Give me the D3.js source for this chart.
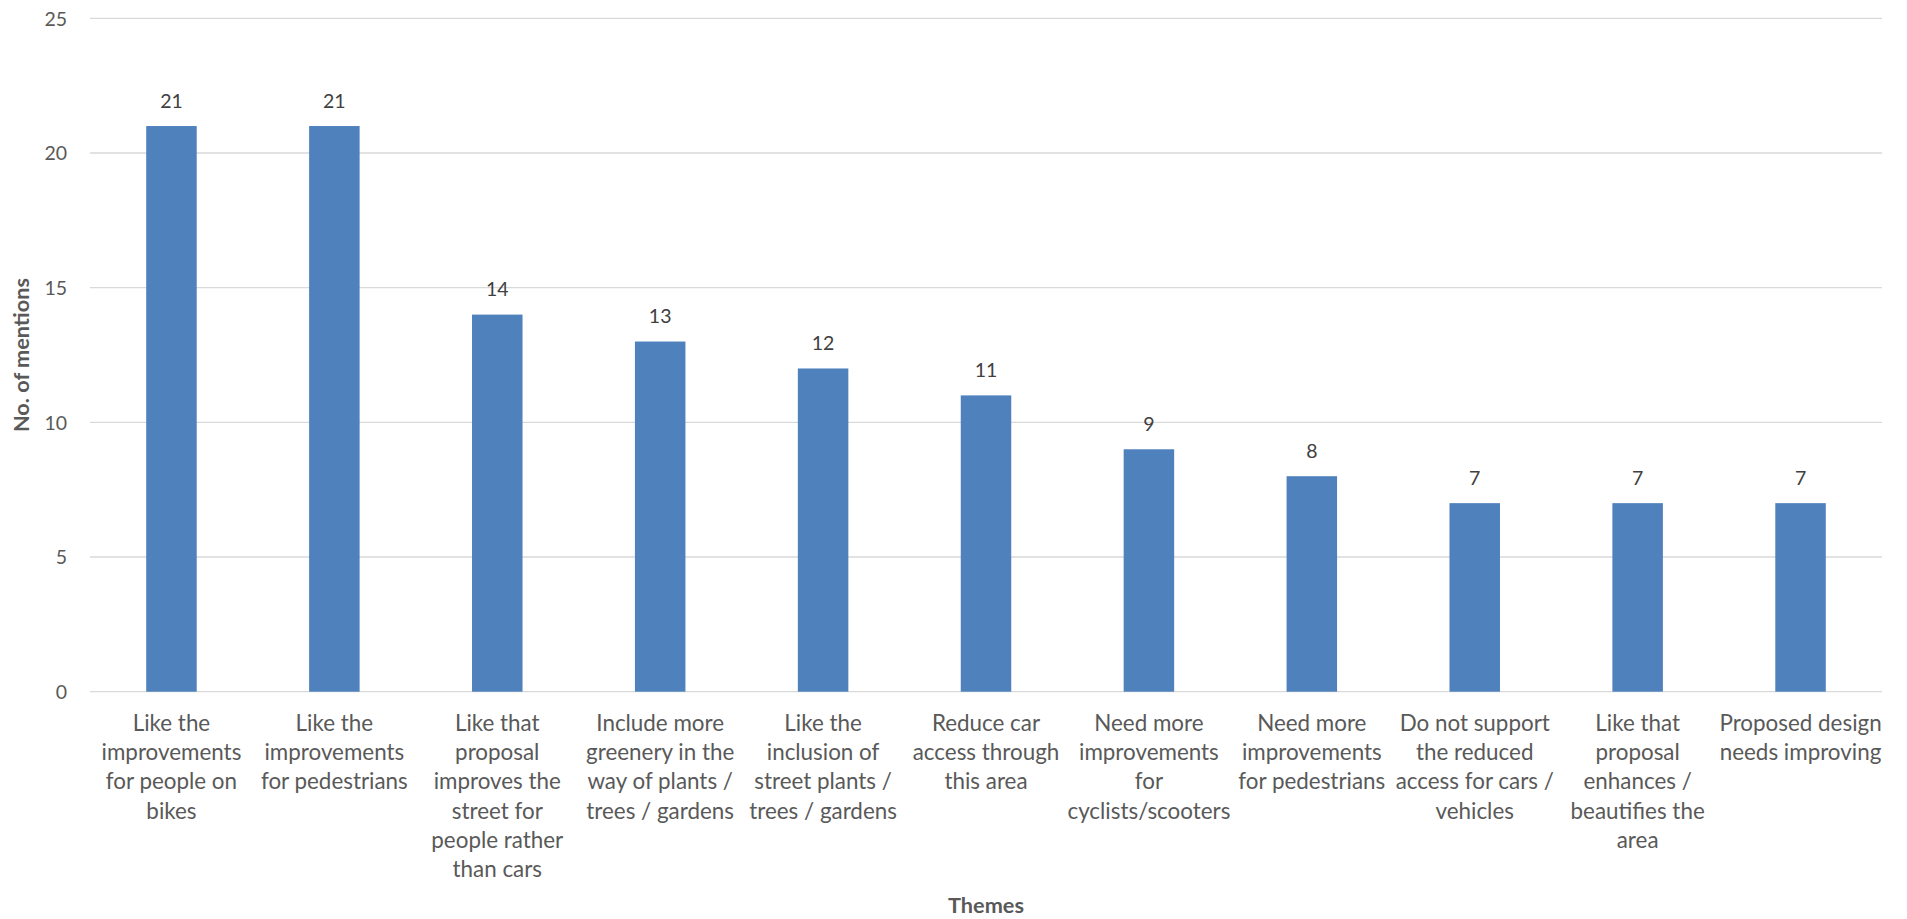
<!DOCTYPE html>
<html>
<head>
<meta charset="utf-8">
<script src="https://cdn.jsdelivr.net/npm/d3@7"></script>
<style>
  html, body { margin: 0; padding: 0; background: #fff; }
  svg { display: block; }
</style>
</head>
<body>
<svg id="chart" width="1907" height="919"></svg>
<script>
const categories = [
  "Like the|improvements|for people on|bikes",
  "Like the|improvements|for pedestrians",
  "Like that|proposal|improves the|street for|people rather|than cars",
  "Include more|greenery in the|way of plants /|trees / gardens",
  "Like the|inclusion of|street plants /|trees / gardens",
  "Reduce car|access through|this area",
  "Need more|improvements|for|cyclists/scooters",
  "Need more|improvements|for pedestrians",
  "Do not support|the reduced|access for cars /|vehicles",
  "Like that|proposal|enhances /|beautifies the|area",
  "Proposed design|needs improving"
];
const mentions = [21, 21, 14, 13, 12, 11, 9, 8, 7, 7, 7];
const yTicks = [0, 5, 10, 15, 20, 25];
const yTitle = "No. of mentions";
const xTitle = "Themes";

(function () {
const svg = d3.select("#chart");
const FONT = "Lato, 'Open Sans', sans-serif";
const pL = 90, pR = 1882, pT = 18.3, pB = 691.7;

const x = d3.scaleBand().domain(d3.range(categories.length)).range([pL, pR]).paddingInner(0.69).paddingOuter(0.345);
const y = d3.scaleLinear().domain([0, 25]).range([pB, pT]);

// gridlines
svg.append("g").selectAll("line").data(yTicks).join("line")
  .attr("x1", pL).attr("x2", pR)
  .attr("y1", d => y(d)).attr("y2", d => y(d))
  .attr("stroke", "#d9d9d9").attr("stroke-width", 1.3);

// y axis labels
const yAxis = d3.axisLeft(y).tickValues(yTicks).tickSize(0).tickPadding(0);
const gy = svg.append("g").attr("transform", `translate(${pL - 23},0)`).call(yAxis);
gy.select(".domain").remove();
gy.selectAll("text").attr("font-family", FONT).attr("font-size", 19.5).attr("fill", "#595959").attr("dy", "0.35em");

// bars
svg.append("g").selectAll("rect").data(mentions).join("rect")
  .attr("x", (d, i) => x(i)).attr("width", x.bandwidth())
  .attr("y", d => y(d)).attr("height", d => y(0) - y(d))
  .attr("fill", "#4f81bd");

// value labels
svg.append("g").selectAll("text").data(mentions).join("text")
  .attr("x", (d, i) => x(i) + x.bandwidth() / 2)
  .attr("y", d => y(d) - 18.5)
  .attr("text-anchor", "middle")
  .attr("font-family", FONT).attr("font-size", 19.5).attr("fill", "#404040")
  .text(d => d);

// category labels
const xAxis = d3.axisBottom(x).tickSize(0).tickFormat("");
svg.append("g").attr("transform", `translate(0,${pB})`).call(xAxis).select(".domain").remove();
const cg = svg.append("g");
categories.forEach((c, i) => {
  const cx = x(i) + x.bandwidth() / 2;
  const t = cg.append("text")
    .attr("x", cx)
    .attr("y", 730.7)
    .attr("text-anchor", "middle")
    .attr("font-family", FONT).attr("font-size", 22.4).attr("fill", "#595959");
  c.split("|").forEach((line, j) => {
    t.append("tspan").attr("x", cx).attr("y", 730.7 + j * 29.3).text(line);
  });
});

// axis titles
svg.append("text")
  .attr("transform", `translate(29,${(pT + pB) / 2}) rotate(-90)`)
  .attr("text-anchor", "middle")
  .attr("font-family", FONT).attr("font-weight", "bold").attr("font-size", 21.7).attr("fill", "#595959")
  .text(yTitle);
svg.append("text")
  .attr("x", (pL + pR) / 2).attr("y", 913)
  .attr("text-anchor", "middle")
  .attr("font-family", FONT).attr("font-weight", "bold").attr("font-size", 21.7).attr("fill", "#595959")
  .text(xTitle);
})();
</script>
</body>
</html>
